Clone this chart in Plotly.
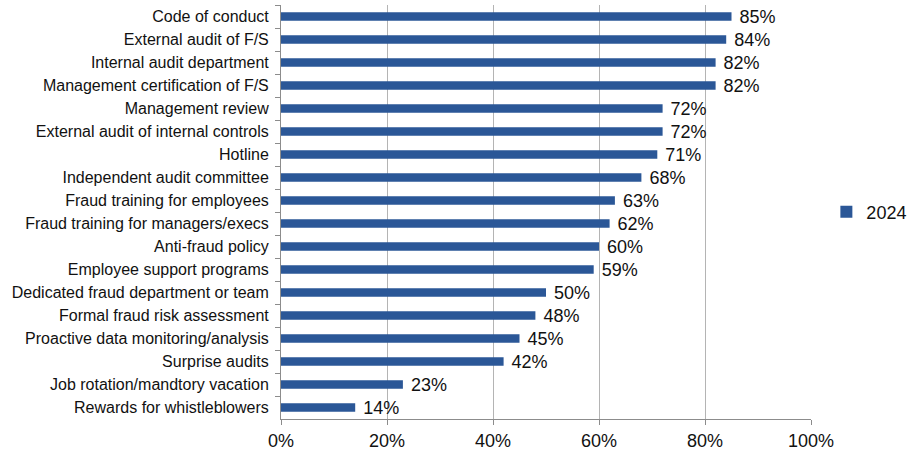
import plotly.graph_objects as go

controls = [
    "Code of conduct",
    "External audit of F/S",
    "Internal audit department",
    "Management certification of F/S",
    "Management review",
    "External audit of internal controls",
    "Hotline",
    "Independent audit committee",
    "Fraud training for employees",
    "Fraud training for managers/execs",
    "Anti-fraud policy",
    "Employee support programs",
    "Dedicated fraud department or team",
    "Formal fraud risk assessment",
    "Proactive data monitoring/analysis",
    "Surprise audits",
    "Job rotation/mandtory vacation",
    "Rewards for whistleblowers",
]
share_2024 = [85, 84, 82, 82, 72, 72, 71, 68, 63, 62, 60, 59, 50, 48, 45, 42, 23, 14]
x_ticks = [0, 20, 40, 60, 80, 100]

FONT = "Liberation Sans, Arial, sans-serif"

fig = go.Figure()
fig.add_trace(go.Bar(
    y=controls,
    x=[v / 100 for v in share_2024],
    orientation="h",
    name="2024",
    marker=dict(color="#2B5797", line=dict(width=0)),
    text=[f" {v}%" for v in share_2024],
    textposition="outside",
    constraintext="none",
    cliponaxis=False,
    textfont=dict(family=FONT, size=18, color="#111111"),
))

fig.update_layout(
    width=912,
    height=451,
    margin=dict(l=281, r=101, t=5, b=32, autoexpand=False),
    paper_bgcolor="white",
    plot_bgcolor="white",
    font=dict(family=FONT, color="#111111"),
    showlegend=True,
    legend=dict(
        x=1.029, y=0.5, xanchor="left", yanchor="middle",
        font=dict(size=18), itemwidth=30,
    ),
    bargap=0.62,
)

fig.update_xaxes(
    range=[0, 1],
    tickvals=[t / 100 for t in x_ticks],
    ticktext=[f"{t}%" for t in x_ticks],
    tickfont=dict(size=18),
    showgrid=True,
    gridcolor="#b4b4b4",
    gridwidth=1,
    showline=True,
    linecolor="#8c8c8c",
    ticks="outside",
    ticklen=5,
    tickcolor="#8c8c8c",
    ticklabelstandoff=0,
    zeroline=False,
    fixedrange=True,
)

fig.update_yaxes(
    autorange="reversed",
    tickfont=dict(size=16),
    showline=True,
    linecolor="#8c8c8c",
    ticks="outside",
    tickson="boundaries",
    ticklen=5,
    tickcolor="#8c8c8c",
    ticklabelstandoff=8,
    showgrid=False,
    fixedrange=True,
)

fig.write_html("out.html")
